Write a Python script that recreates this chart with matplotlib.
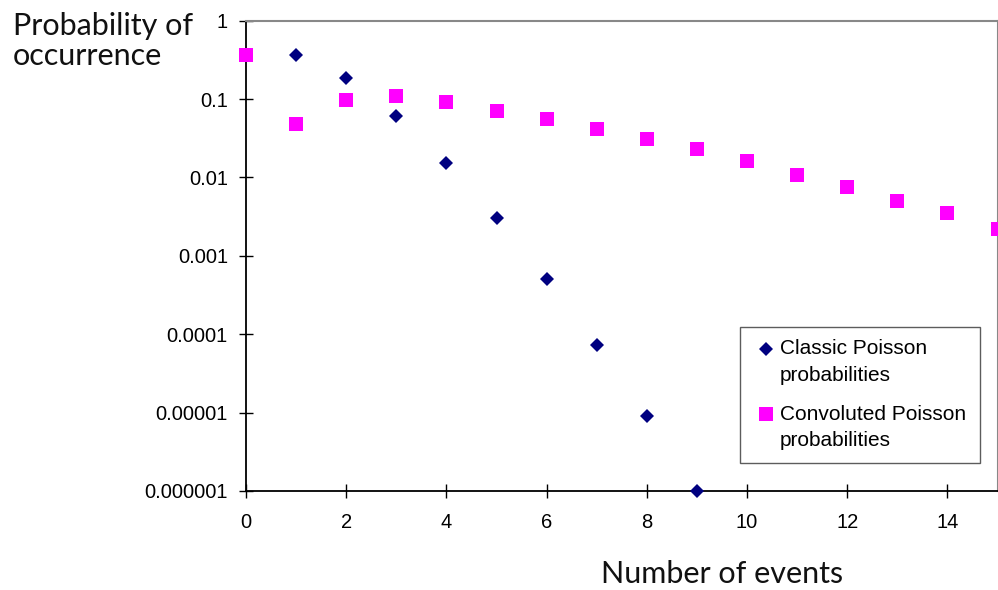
import matplotlib
matplotlib.use("Agg")
import matplotlib.pyplot as plt
from matplotlib.ticker import FixedLocator, FixedFormatter, NullLocator
from matplotlib.legend_handler import HandlerLine2D

# Number of events on the x axis
events = list(range(16))

# Classic Poisson probabilities (events 0-9)
classic_probs = [0.368, 0.368, 0.184, 0.0613, 0.0153, 0.00307,
                 0.000511, 0.000073, 0.0000091, 0.0000010]

# Convoluted Poisson probabilities (events 0-15)
convoluted_probs = [0.368, 0.048, 0.098, 0.110, 0.093, 0.0695, 0.0556,
                    0.0414, 0.0309, 0.0230, 0.0160, 0.0106, 0.0075,
                    0.0050, 0.00347, 0.00217]

y_tick_values = [1e-6, 1e-5, 1e-4, 1e-3, 1e-2, 1e-1, 1]
y_tick_labels = ["0.000001", "0.00001", "0.0001", "0.001", "0.01", "0.1", "1"]
x_tick_values = [0, 2, 4, 6, 8, 10, 12, 14]
x_tick_labels = ["0", "2", "4", "6", "8", "10", "12", "14"]

tick_font = "Liberation Sans"
title_font = "Lato"


class FirstLineHandler(HandlerLine2D):
    """Legend marker lifted so it sits beside the first line of a two-line label."""

    def __init__(self, lift, **kw):
        super().__init__(**kw)
        self.lift = lift

    def create_artists(self, legend, orig_handle, xdescent, ydescent,
                       width, height, fontsize, trans):
        artists = super().create_artists(legend, orig_handle, xdescent, ydescent,
                                         width, height, fontsize, trans)
        for a in artists:
            a.set_ydata([y + self.lift for y in a.get_ydata()])
        return artists


W, H = 998, 590
fig = plt.figure(figsize=(W / 100, H / 100), dpi=100)
left, right, top, bottom = 246, 997.5, 20.7, 491
ax = fig.add_axes([left / W, 1 - bottom / H, (right - left) / W, (bottom - top) / H])

ax.set_yscale("log")
ax.set_xlim(0, 15)
ax.set_ylim(1e-6, 1)

classic_line, = ax.plot(events[:len(classic_probs)], classic_probs, linestyle="none",
                        marker="D", markersize=6.8, color="#000080", markeredgewidth=0,
                        clip_on=False, zorder=3, label="Classic Poisson\nprobabilities")
conv_line, = ax.plot(events, convoluted_probs, linestyle="none",
                     marker="s", markersize=9.8, color="#FF00FF", markeredgewidth=0,
                     clip_on=False, zorder=4, label="Convoluted Poisson\nprobabilities")

ax.yaxis.set_major_locator(FixedLocator(y_tick_values))
ax.yaxis.set_major_formatter(FixedFormatter(y_tick_labels))
ax.yaxis.set_minor_locator(NullLocator())
ax.xaxis.set_major_locator(FixedLocator(x_tick_values))
ax.xaxis.set_major_formatter(FixedFormatter(x_tick_labels))

ax.tick_params(axis="both", direction="inout", length=10, width=1,
               color="black", labelsize=14.5, labelcolor="black")
ax.tick_params(axis="y", pad=8)
ax.tick_params(axis="x", pad=11)
for lab in ax.get_xticklabels() + ax.get_yticklabels():
    lab.set_fontfamily(tick_font)

for side in ("left", "bottom"):
    ax.spines[side].set_color("black")
    ax.spines[side].set_linewidth(1.3)
for side in ("top", "right"):
    ax.spines[side].set_color("#888888")
    ax.spines[side].set_linewidth(1.5)

lift = 10
leg = ax.legend(handles=[classic_line, conv_line], loc="upper left",
                bbox_to_anchor=(740 / W, 1 - 327 / H, 240 / W, 0),
                bbox_transform=fig.transFigure, mode="expand",
                frameon=True, fancybox=False, shadow=False,
                prop={"family": tick_font, "size": 15},
                handlelength=1.25, handletextpad=0.05, borderpad=0.6,
                labelspacing=0.95, borderaxespad=0,
                handler_map={classic_line: FirstLineHandler(lift),
                             conv_line: FirstLineHandler(lift)})
for t in leg.get_texts():
    t.set_linespacing(1.5)
leg.get_frame().set_edgecolor("#333333")
leg.get_frame().set_linewidth(1.0)

fig.text(13 / W, 1 - 65 / H, "Probability of\noccurrence", family=title_font,
         fontsize=22, ha="left", va="baseline", linespacing=1.1, color="#111111")
fig.text(722 / W, 1 - 583 / H, "Number of events", family=title_font,
         fontsize=22, ha="center", va="baseline", color="#111111")

fig.savefig("out.png", dpi=100)
